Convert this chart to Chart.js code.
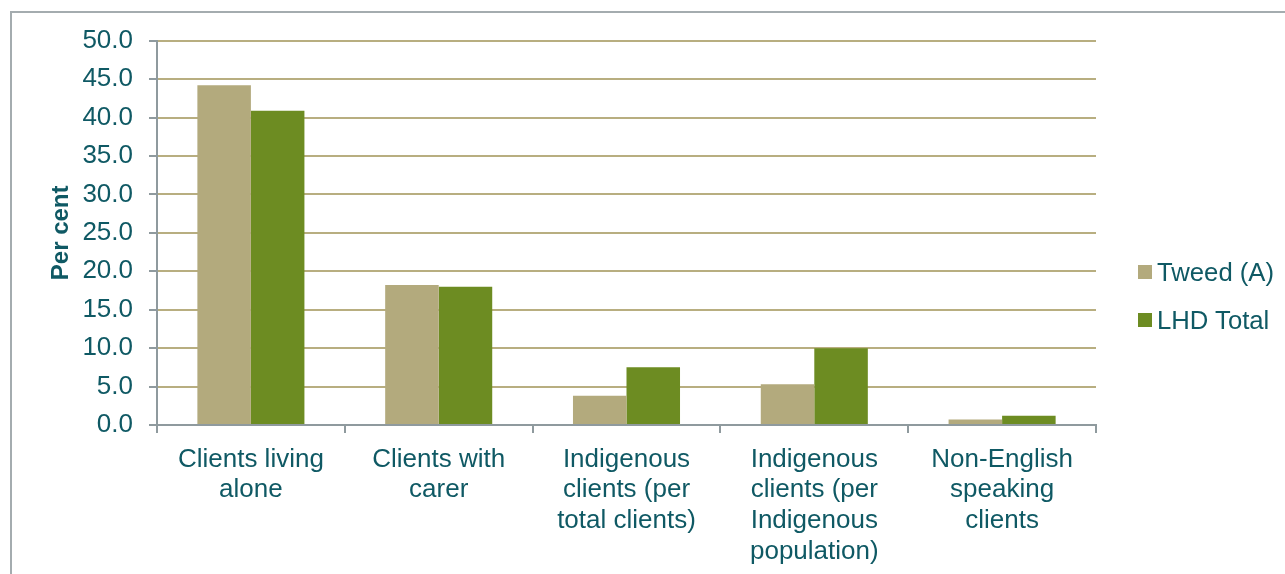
<!DOCTYPE html>
<html>
<head>
<meta charset="utf-8">
<script src="https://cdn.jsdelivr.net/npm/chart.js@4.4.1/dist/chart.umd.min.js"></script>
<style>
  html, body { margin: 0; padding: 0; background: #fff; }
  body { width: 1285px; height: 574px; overflow: hidden; position: relative; font-family: 'Liberation Sans', Arial, sans-serif; }
  #frame { position: absolute; left: 10px; top: 11px; width: 1273px; height: 561px; border-left: 2px solid #a4acaf; border-top: 2px solid #a4acaf; }
  #frame canvas { display: block; }
  .legend { position: absolute; left: 1138px; top: 255px; color: #0f5964; font-size: 25.7px; }
  .legend div { display: flex; align-items: center; height: 34px; margin-bottom: 14px; }
  .legend span.box { width: 14px; height: 14px; margin-right: 5px; display: inline-block; }
</style>
</head>
<body>
<div id="frame"><canvas id="chart" width="1273" height="561"></canvas></div>
<div class="legend" id="legend"></div>
<script>
// ── Данные ────────────────────────────────────────────
const categories = [
  ['Clients living', 'alone'],
  ['Clients with', 'carer'],
  ['Indigenous', 'clients (per', 'total clients)'],
  ['Indigenous', 'clients (per', 'Indigenous', 'population)'],
  ['Non-English', 'speaking', 'clients']
]
const seriesNames  = ['Tweed (A)', 'LHD Total']
const tweedValues  = [44.2, 18.2, 3.8, 5.3, 0.7]
const lhdValues    = [40.9, 18.0, 7.5, 10.0, 1.2]
const seriesColors = ['#b3aa7d', '#6d8c22']
const yTicks       = { min: 0, max: 50, step: 5 }

const TEXT  = '#0f5964'
const AXIS  = '#8f9a9e'
const GRID  = '#b8ae80'
const FONT  = "'Liberation Sans', Arial, sans-serif"

/* global Chart */
const chart = new Chart(document.getElementById('chart'), {
  type: 'bar',
  data: {
    labels: categories,
    datasets: [
      { label: seriesNames[0], data: tweedValues, backgroundColor: seriesColors[0] },
      { label: seriesNames[1], data: lhdValues,   backgroundColor: seriesColors[1] }
    ]
  },
  options: {
    responsive: false,
    animation: false,
    datasets: { bar: { categoryPercentage: 0.57, barPercentage: 1.0 } },
    layout: { padding: { top: 0, right: 189, left: 0, bottom: 0 } },
    plugins: { legend: { display: false }, tooltip: { enabled: false } },
    scales: {
      x: {
        grid: { drawOnChartArea: false, drawTicks: true, tickLength: 8, tickColor: AXIS, lineWidth: 2, offset: true },
        border: { color: AXIS, width: 2 },
        ticks: { color: TEXT, font: { family: FONT, size: 26, lineHeight: 1.18 }, padding: 11, maxRotation: 0, autoSkip: false },
        afterFit: s => { s.height = 149 }
      },
      y: {
        min: yTicks.min, max: yTicks.max,
        grid: { color: GRID, lineWidth: 2, tickLength: 8, tickColor: AXIS },
        border: { color: AXIS, width: 2 },
        // lineHeight задаёт отступ сверху над 50.0
        ticks: { stepSize: yTicks.step, color: TEXT, font: { family: FONT, size: 26, lineHeight: 0.9 }, padding: 16, callback: v => v.toFixed(1) },
        title: { display: true, text: 'Per cent', color: TEXT, font: { family: FONT, size: 24, weight: 'bold' }, padding: { top: 35, bottom: 0 } },
        afterFit: s => { s.width = 145 }
      }
    }
  }
})

// Легенда справа
document.getElementById('legend').innerHTML = chart.data.datasets.map(d =>
  `<div><span class="box" style="background:${d.backgroundColor}"></span>${d.label}</div>`
).join('')
</script>
</body>
</html>
